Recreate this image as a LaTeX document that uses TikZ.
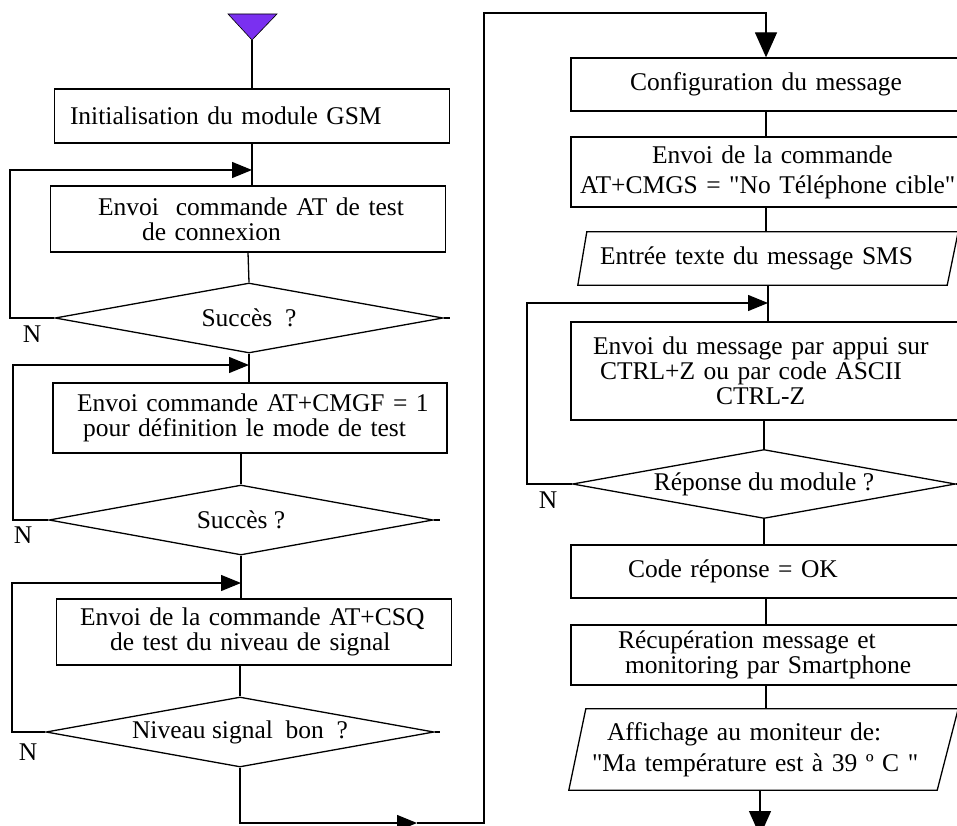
\documentclass[tikz,border=0pt]{standalone}
\usepackage{fontspec}
\setmainfont{Liberation Serif}[Ligatures=TeXOff]
\usetikzlibrary{shapes.geometric,arrows.meta,calc}
\definecolor{startviolet}{RGB}{122,48,240}
\begin{document}
\begin{tikzpicture}[x=1pt,y=-1pt,
  every node/.style={font=\fontsize{25.5}{25}\selectfont},
  flow/.style={line width=1.3pt},
  box/.style 2 args={draw,flow,rectangle,inner xsep=0pt,inner ysep=2pt,align=left,
      text width=#1,minimum width=#1,minimum height=#2},
  dec/.style 2 args={draw,flow,diamond,aspect=5.5,inner sep=0pt,
      minimum width=#1,minimum height=#2},
  para/.style 2 args={inner sep=0pt,align=left,minimum width=#1,minimum height=#2},
  arr/.style={flow,-{Triangle[length=20pt,width=16pt]}},
  arrbig/.style={flow,-{Triangle[length=25pt,width=22pt]}},
  lbl/.style={inner sep=0pt}]
\useasboundingbox (0,0) rectangle (957,826);
\fill[white] (0,0) rectangle (957,826);
\clip (0,0) rectangle (957,826);

% ---------- left column ----------
\filldraw[fill=startviolet,draw=black,line width=0.6pt] (228,14) -- (277,14) -- (252,40) -- cycle;
\coordinate (start) at (252,40);

\node[box={395pt}{54pt}] (b1) at (252,116) {\hspace*{15.5pt}Initialisation du module GSM};
\node[box={395pt}{66pt}] (b2) at (248,219) {\hspace*{47.5pt}Envoi\ \ commande AT de test\\\hspace*{91.5pt}de connexion};
\node[dec={388pt}{70pt}] (d1) at (249,318) {Succès\ \ ?};
\node[box={394pt}{70pt}] (b3) at (250,418) {\hspace*{24pt}Envoi commande AT+CMGF = 1\\\hspace*{30pt}pour définition le mode de test};
\node[dec={384pt}{70pt}] (d2) at (241,520) {Succès ?};
\node[box={395pt}{66pt}] (b4) at (254,632) {\hspace*{23.5pt}Envoi de la commande AT+CSQ\\\hspace*{53.5pt}de test du niveau de signal};
\node[dec={388pt}{70pt}] (d3) at (240,732) {Niveau signal\ \ bon\ \ ?};

\node[lbl] (n1) at (32,334) {N};
\node[lbl] (n2) at (23,535) {N};
\node[lbl] (n3) at (28,752) {N};

% ---------- right column ----------
\node[box={390pt}{53pt}] (b5) at (766,84.5) {\hspace*{59pt}Configuration du message};
\node[box={390pt}{70pt}] (b6) at (766,172) {\hspace*{81pt}Envoi de la commande\\[5pt]\hspace*{9pt}AT+CMGS = "No Téléphone cible"};
\node[para={380pt}{53pt},text width=350pt] (p1) at (768,258.5) {\hspace*{7pt}Entrée texte du message SMS};
\draw[flow] (p1.south west) -- ($(p1.south east)-(11,0)$) -- (p1.north east) -- ($(p1.north west)+(9,0)$) -- cycle;
\node[box={390pt}{98pt}] (b7) at (766,371) {\hspace*{22pt}Envoi du message par appui sur\\\hspace*{29pt}CTRL+Z ou par code ASCII\\\hspace*{145pt}CTRL-Z};
\node[dec={383pt}{69pt}] (d4) at (764,484) {Réponse du module ?};
\node[lbl] (n4) at (548,500) {N};
\node[box={390pt}{53pt}] (b8) at (766,571.5) {\hspace*{57pt}Code réponse = OK};
\node[box={390pt}{60pt}] (b9) at (766,655) {\hspace*{47pt}Récupération message et\\\hspace*{54pt}monitoring par Smartphone};
\node[para={389pt}{81pt},text width=360pt] (p2) at (763.5,749.5) {\hspace*{23.5pt}Affichage au moniteur de:\\[6pt]\hspace*{8.5pt}"Ma température est à 39 º C "};
\draw[flow] (p2.south west) -- ($(p2.south east)-(21,0)$) -- (p2.north east) -- ($(p2.north west)+(17,0)$) -- cycle;

% ---------- coordinates ----------
\coordinate (L1) at (10,170);
\coordinate (L2) at (13,365);
\coordinate (L3) at (12,583);
\coordinate (L4) at (527,303);
\coordinate (M) at (417,823);
\coordinate (C1) at (484,823);
\coordinate (C2) at (484,13);
\coordinate (E) at (760,836);

% ---------- connectors left ----------
\draw[flow] (start) -- (b1.north);
\draw[flow] (b1.south) -- (b1.south |- b2.north);
\draw[flow] (b2.south) -- (d1.north);
\draw[flow] (d1.south) -- (d1.south |- b3.north);
\draw[flow] (d2.north |- b3.south) -- (d2.north);
\draw[flow] (d2.south) -- (d2.south |- b4.north);
\draw[flow] (d3.north |- b4.south) -- (d3.north);
\draw[arr] (d1.west) -| (L1) -- (b1.south |- L1);
\draw[arr] (d2.west) -| (L2) -- (d1.south |- L2);
\draw[arr] (d3.west) -| (L3) -- (d2.south |- L3);
\draw[flow] (d1.east) -- ++(6,0);
\draw[flow] (d2.east) -- ++(6,0);
\draw[flow] (d3.east) -- ++(5,0);

% ---------- bridge ----------
\draw[arr] (d3.south) |- (M);
\draw[arrbig] (M) -- (C1) -- (C2) -| (b5.north);

% ---------- connectors right ----------
\draw[flow] (b5.south) -- (b6.north);
\draw[flow] (b6.south) -- (b6.south |- p1.north);
\draw[flow] (p1.south) -- (p1.south |- b7.north);
\draw[flow] (d4.north |- b7.south) -- (d4.north);
\draw[arr] (d4.west) -| (L4) -- (p1.south |- L4);
\draw[flow] (d4.east) -- ++(6,0);
\draw[flow] (d4.south) -- (d4.south |- b8.north);
\draw[flow] (b8.south) -- (b8.south |- b9.north);
\draw[flow] (b9.south) -- (b9.south |- p2.north);
\draw[arrbig] (E |- p2.south) -- (E);
\end{tikzpicture}
\end{document}
